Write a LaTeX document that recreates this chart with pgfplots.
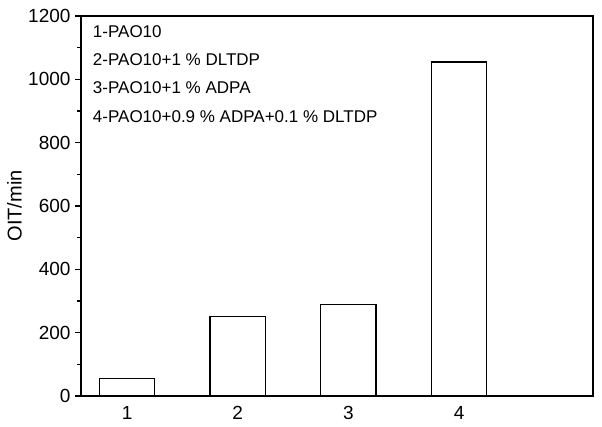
\documentclass[border=0pt]{standalone}
\usepackage{fontspec}
\setmainfont{Liberation Sans}
\usepackage{pgfplots}
\pgfplotsset{compat=1.18}

\begin{document}
\begin{tikzpicture}
\begin{axis}[
    at={(0,0)}, anchor=south west,
    scale only axis,
    width=512pt, height=380pt,
    xmin=0.584, xmax=5.21,
    ymin=0, ymax=1200,
    xtick={1,2,3,4},
    ytick={0,200,...,1200},
    minor ytick={100,300,...,1100},
    major tick length=6pt,
    minor tick length=3.5pt,
    tick align=outside,
    ytick pos=left,
    xtick pos=bottom,
    x tick style={draw=none},
    tick style={line width=1.2pt, black},
    axis line style={line width=1.5pt},
    /pgf/number format/assume math mode=true,
    /pgf/number format/1000 sep={},
    ticklabel style={font=\fontsize{19}{22}\selectfont},
    yticklabel style={xshift=-1pt},
    xticklabel style={yshift=-1pt},
    ylabel={OIT/min},
    ylabel style={font=\fontsize{20}{24}\selectfont, at={(rel axis cs:-0.1152,0.5)},
        anchor=south, inner sep=0pt},
    clip=false,
]
\addplot[ybar, bar width=0.5, fill=white, draw=black, line width=1.3pt]
    coordinates {(1,55) (2,252) (3,288) (4,1055)};

\node[anchor=base west, font=\fontsize{17}{20}\selectfont, inner sep=0pt]
    at (rel axis cs:0.023,0.943) {1-PAO10};
\node[anchor=base west, font=\fontsize{17}{20}\selectfont, inner sep=0pt]
    at (rel axis cs:0.023,0.871) {2-PAO10+1 \% DLTDP};
\node[anchor=base west, font=\fontsize{17}{20}\selectfont, inner sep=0pt]
    at (rel axis cs:0.023,0.795) {3-PAO10+1 \% ADPA};
\node[anchor=base west, font=\fontsize{17}{20}\selectfont, inner sep=0pt]
    at (rel axis cs:0.023,0.721) {4-PAO10+0.9 \% ADPA+0.1 \% DLTDP};
\end{axis}
\pgfresetboundingbox
\path (-81pt,-30pt) rectangle (521pt,396pt);
\end{tikzpicture}
\end{document}
